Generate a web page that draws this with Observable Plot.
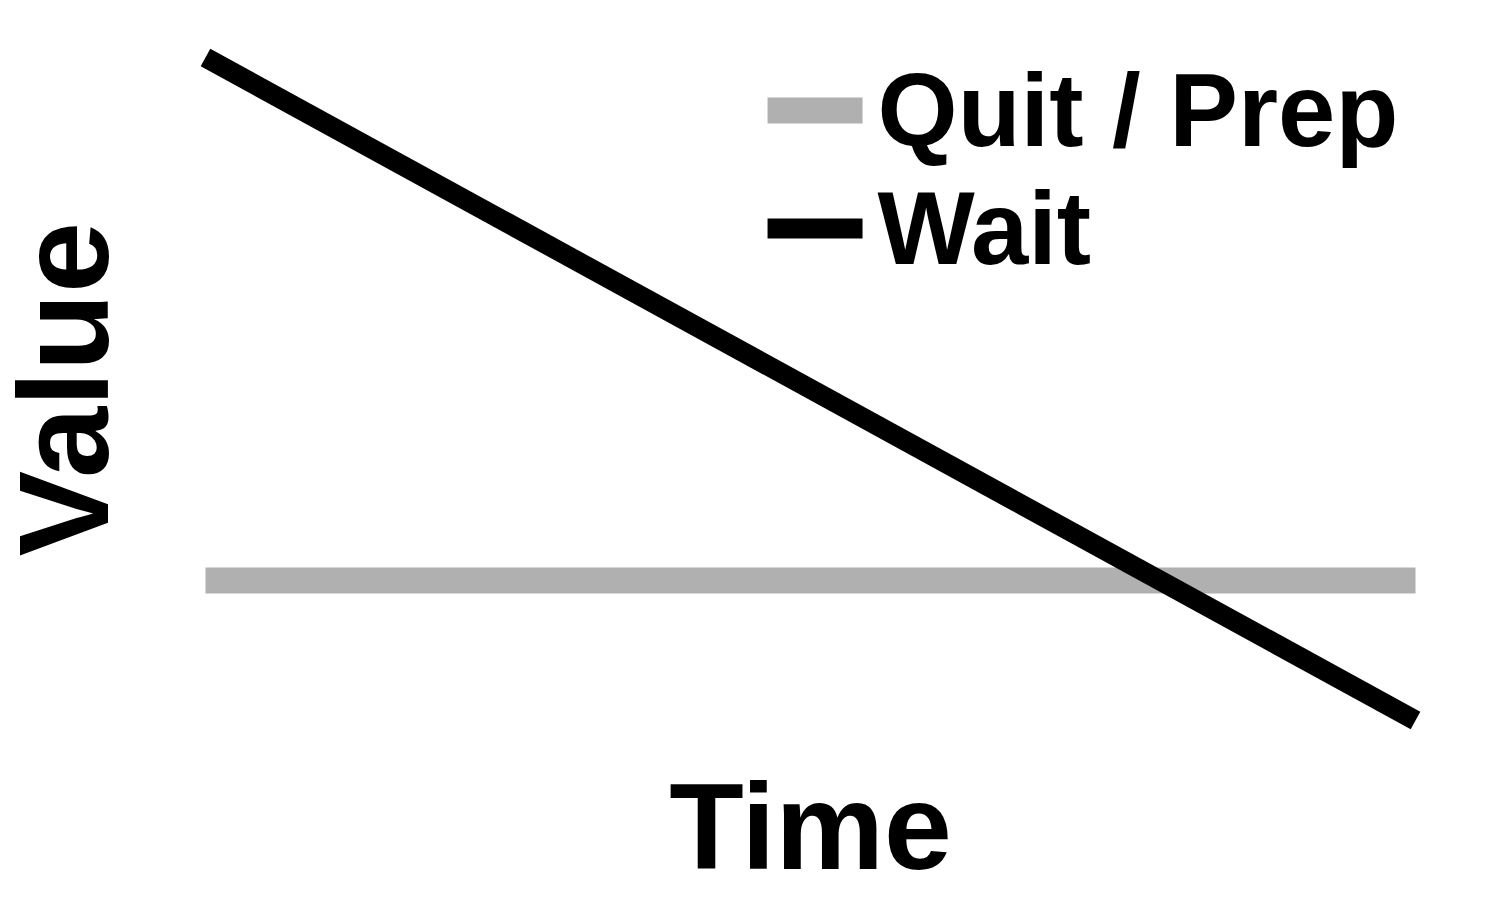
<!DOCTYPE html>
<html><head><meta charset="utf-8">
<script src="https://cdn.jsdelivr.net/npm/d3@7"></script>
<script src="https://cdn.jsdelivr.net/npm/@observablehq/plot@0.6"></script>
<style>body{margin:0;background:#fff}</style>
</head><body><div id="chart"></div>
<script>
const times = [0, 1];
const waitValues = [1, 0];
const quitValues = [0.211, 0.211];
const seriesNames = ["Quit / Prep", "Wait"];
const seriesColors = ["#b0b0b0", "#000000"];
const seriesWidths = [26, 20];
const legendY = [0.92, 0.742];

const wait = times.map((t, i) => ({t, v: waitValues[i]}));
const quit = times.map((t, i) => ({t, v: quitValues[i]}));
const legend = seriesNames.map((name, i) => ({name, y: legendY[i], color: seriesColors[i], w: seriesWidths[i]}));

const font = "'Liberation Sans', Arial, sans-serif";
const chart = Plot.plot({
  width: 1500, height: 900,
  marginLeft: 205, marginRight: 85, marginTop: 57, marginBottom: 180,
  x: {domain: [0, 1], axis: null},
  y: {domain: [0, 1], axis: null},
  style: {fontFamily: font},
  marks: [
    Plot.line(quit, {x: "t", y: "v", stroke: seriesColors[0], strokeWidth: seriesWidths[0], strokeLinecap: "butt"}),
    Plot.line(wait, {x: "t", y: "v", stroke: seriesColors[1], strokeWidth: seriesWidths[1], strokeLinecap: "butt"}),
    Plot.link(legend, {x1: 0.4645, x2: 0.543, y1: "y", y2: "y", stroke: "color", strokeWidth: "w", strokeLinecap: "butt"}),
    Plot.text(legend, {x: 0.5554, y: "y", text: "name", textAnchor: "start", fontSize: 103, fontWeight: "bold", fill: "#000", dy: 2}),
    Plot.text(["Time"], {frameAnchor: "bottom", dy: 148, fontSize: 122, fontWeight: "bold", fill: "#000"}),
    Plot.text(["Value"], {frameAnchor: "left", textAnchor: "middle", dx: -138, rotate: -90, fontSize: 128, fontWeight: "bold", fill: "#000"})
  ]
});
document.getElementById("chart").append(chart);
</script></body></html>
